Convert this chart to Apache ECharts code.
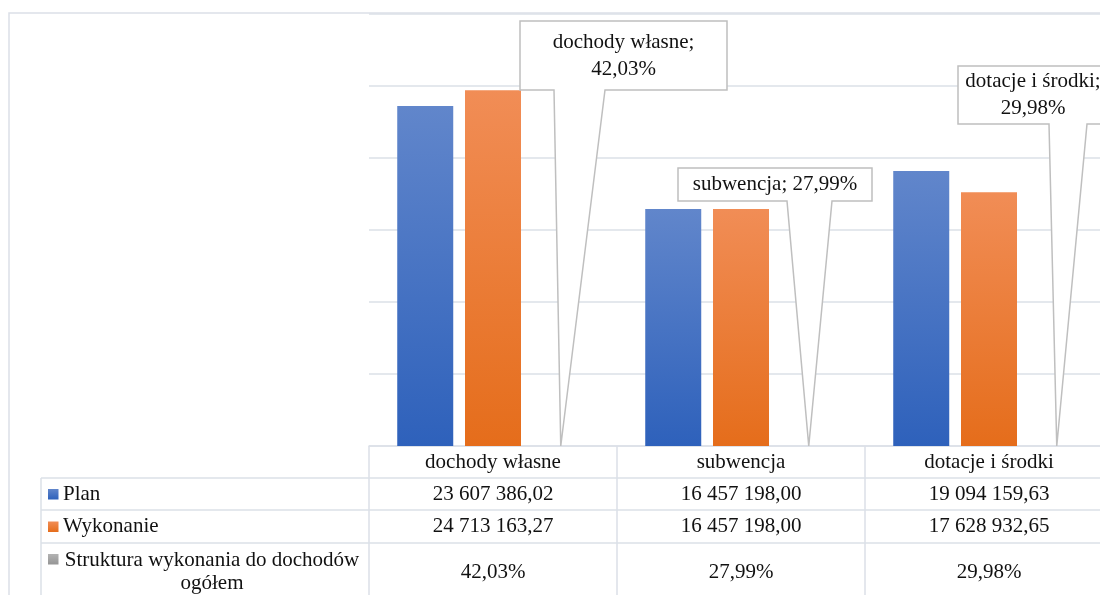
<!DOCTYPE html>
<html><head><meta charset="utf-8">
<script src="https://cdn.jsdelivr.net/npm/echarts@6/dist/echarts.min.js"></script>
<style>html,body{margin:0;padding:0;background:#fff;overflow:hidden;width:1100px;height:595px}#c{width:1140px;height:595px}</style>
</head><body><div id="c"></div>
<script>
// ---- data ----
const categories = ['dochody własne', 'subwencja', 'dotacje i środki'];
const seriesNames = ['Plan', 'Wykonanie', 'Struktura wykonania do dochodów\nogółem'];
const planValues = [23607386.02, 16457198.00, 19094159.63];
const wykonanieValues = [24713163.27, 16457198.00, 17628932.65];
const strukturaValues = [42.03, 27.99, 29.98]; // percent
const yMin = 0, yMax = 30000000, yInterval = 5000000;

// ---- style / layout ----
const FONT = '"Liberation Serif", "Times New Roman", serif';
const LINE = '#dbe0e7';
const TXT = '#111';
const FS = 21;
const gridLeft = 369, gridTop = 14, gridW = 744, gridH = 432;
const rowH = [32, 32, 33, 52]; // header, plan, wykonanie, struktura
const tableLeft = 41;
const calloutBoxes = [
  { x0: 520, y0: 21, x1: 727, y1: 90, wl: 554, wr: 605, lines: 2 },
  { x0: 678, y0: 168, x1: 872, y1: 201, wl: 787, wr: 832, lines: 1 },
  { x0: 958, y0: 66, x1: 1108, y1: 124, wl: 1049, wr: 1087, lines: 2 }
];

function grad(top, bottom) {
  return new echarts.graphic.LinearGradient(0, 0, 0, 1, [{ offset: 0, color: top }, { offset: 1, color: bottom }]);
}
const colPlan = () => grad('#6186cb', '#2e61bb');
const colWyk = () => grad('#f18d56', '#e56d1b');
const colStr = () => grad('#b3b3b3', '#959595');

function fmtMoney(v) {
  const s = v.toFixed(2).split('.');
  return s[0].replace(/\B(?=(\d{3})+(?!\d))/g, ' ') + ',' + s[1];
}
function fmtPct(v) { return v.toFixed(2).replace('.', ',') + '%'; }

const chart = echarts.init(document.getElementById('c'));
chart.setOption({
  animation: false,
  backgroundColor: '#fff',
  grid: { left: gridLeft, top: gridTop, width: gridW, height: gridH, containLabel: false },
  xAxis: {
    type: 'category',
    data: categories,
    axisLine: { show: true, lineStyle: { color: LINE, width: 1.5 } },
    axisTick: { show: true, length: rowH.reduce((a, b) => a + b, 0), lineStyle: { color: LINE, width: 1.5 } },
    axisLabel: { show: true, margin: 16, verticalAlign: 'middle', fontFamily: FONT, fontSize: FS, color: TXT }
  },
  yAxis: {
    type: 'value', min: yMin, max: yMax, interval: yInterval,
    axisLabel: { show: false }, axisLine: { show: false }, axisTick: { show: false },
    splitLine: { show: true, lineStyle: { color: LINE, width: 1.5 } }
  },
  series: [
    { name: seriesNames[0], type: 'bar', data: planValues, barWidth: 56, barGap: '21%', itemStyle: { color: colPlan() } },
    { name: seriesNames[1], type: 'bar', data: wykonanieValues, barWidth: 56, barGap: '21%', itemStyle: { color: colWyk() } },
    { name: seriesNames[2], type: 'bar', data: strukturaValues, barWidth: 56, barGap: '21%', itemStyle: { color: colStr() } }
  ]
});

// ---- table & callouts built from axis/bar geometry ----
const baseY = chart.convertToPixel({ yAxisIndex: 0 }, 0);
const xs = categories.map((c, i) => chart.convertToPixel({ xAxisIndex: 0 }, i));
const rowTops = [baseY];
rowH.forEach(h => rowTops.push(rowTops[rowTops.length - 1] + h));
const rightEdge = gridLeft + gridW;
const g = [];

// outer chart border
g.push({ type: 'rect', shape: { x: 9, y: 13, width: 1200, height: 700 }, style: { fill: null, stroke: LINE, lineWidth: 1.5 }, z: 1 });
// horizontal table lines
for (let r = 1; r < rowTops.length - 1; r++) {
  g.push({ type: 'line', shape: { x1: tableLeft, y1: rowTops[r], x2: rightEdge, y2: rowTops[r] }, style: { stroke: LINE, lineWidth: 1.5 }, z: 1 });
}
// left column vertical line
g.push({ type: 'line', shape: { x1: tableLeft, y1: rowTops[1], x2: tableLeft, y2: rowTops[4] }, style: { stroke: LINE, lineWidth: 1.5 }, z: 1 });

// row legend keys + labels
const keyCols = [colPlan(), colWyk(), colStr()];
for (let s = 0; s < 3; s++) {
  const top = rowTops[s + 1], bottom = rowTops[s + 2];
  const cy = s < 2 ? (top + bottom) / 2 : top + 16;
  g.push({ type: 'rect', shape: { x: 48, y: cy - 5, width: 10.5, height: 10.5 }, style: { fill: keyCols[s] }, z: 5 });
  if (s < 2) {
    g.push({ type: 'text', x: 63, y: (top + bottom) / 2, style: { text: seriesNames[s], font: FS + 'px ' + FONT, fill: TXT, align: 'left', verticalAlign: 'middle' }, z: 5 });
  } else {
    g.push({ type: 'text', x: 212, y: (top + bottom) / 2 + 3, style: { text: seriesNames[s], font: FS + 'px ' + FONT, fill: TXT, align: 'center', verticalAlign: 'middle', lineHeight: 23 }, z: 5 });
  }
}
// row values
const rowsText = [planValues.map(fmtMoney), wykonanieValues.map(fmtMoney), strukturaValues.map(fmtPct)];
rowsText.forEach((arr, r) => {
  const top = rowTops[r + 1], bottom = rowTops[r + 2];
  arr.forEach((t, i) => {
    g.push({ type: 'text', x: xs[i], y: (top + bottom) / 2 + (r === 2 ? 3 : 0), style: { text: t, font: FS + 'px ' + FONT, fill: TXT, align: 'center', verticalAlign: 'middle' }, z: 5 });
  });
});

// callouts
const strData = chart.getModel().getSeriesByIndex(2).getData();
calloutBoxes.forEach((b, i) => {
  const lay = strData.getItemLayout(i);
  const tx = lay.x + lay.width / 2, ty = lay.y;
  g.push({
    type: 'polygon', z: 20,
    shape: { points: [[b.x0, b.y0], [b.x1, b.y0], [b.x1, b.y1], [b.wr, b.y1], [tx, ty], [b.wl, b.y1], [b.x0, b.y1]] },
    style: { fill: '#fff', stroke: '#bfbfbf', lineWidth: 1.5 }
  });
  const txt = b.lines === 2 ? categories[i] + ';\n' + fmtPct(strukturaValues[i]) : categories[i] + '; ' + fmtPct(strukturaValues[i]);
  g.push({
    type: 'text', z: 21, x: (b.x0 + b.x1) / 2, y: (b.y0 + b.y1) / 2,
    style: { text: txt, font: FS + 'px ' + FONT, fill: TXT, align: 'center', verticalAlign: 'middle', lineHeight: 27 }
  });
});

chart.setOption({ graphic: g });
</script>
</body></html>
